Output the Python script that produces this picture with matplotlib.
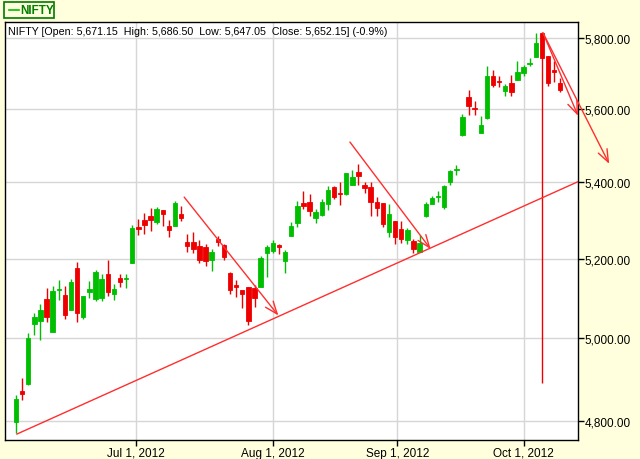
import numpy as np
import pandas as pd
import matplotlib
matplotlib.use('Agg')
import matplotlib.pyplot as plt
import matplotlib.ticker as mticker
from matplotlib.patches import Rectangle
from matplotlib.lines import Line2D

# NIFTY daily bars, Jun 4 - Oct 10 2012 (exchange holidays dropped)
holidays = ['2012-08-15', '2012-08-20', '2012-10-02']
dates = pd.bdate_range('2012-06-04', '2012-10-10')
dates = dates[~dates.isin(pd.to_datetime(holidays))]

opens = [4797, 4871, 4888, 5035, 5043, 5098, 5016, 5119, 5108, 5070,
         5176, 5051, 5114, 5098, 5101, 5161, 5109, 5151, 5149, 5190,
         5283, 5301, 5311, 5296, 5327, 5285, 5285, 5317, 5242, 5244,
         5233, 5231, 5198, 5251, 5235, 5164, 5132, 5120, 5128, 5125,
         5129, 5216, 5221, 5236, 5195, 5260, 5294, 5346, 5348, 5307,
         5315, 5343, 5388, 5371, 5368, 5394, 5428, 5393, 5388, 5348,
         5346, 5268, 5298, 5277, 5249, 5246, 5218, 5310, 5343, 5361,
         5335, 5402, 5432, 5527, 5633, 5602, 5535, 5575, 5692, 5678,
         5651, 5672, 5681, 5701, 5727, 5746, 5814, 5749, 5709, 5671.15]
highs = [4861, 4902, 5013, 5062, 5085, 5126, 5130, 5146, 5130, 5148,
         5192, 5105, 5143, 5171, 5161, 5197, 5136, 5161, 5161, 5288,
         5303, 5319, 5332, 5335, 5327, 5301, 5351, 5338, 5264, 5269,
         5249, 5238, 5225, 5259, 5239, 5165, 5146, 5121, 5128, 5134,
         5206, 5236, 5249, 5238, 5223, 5296, 5351, 5377, 5369, 5330,
         5356, 5391, 5391, 5401, 5425, 5434, 5450, 5401, 5401, 5360,
         5346, 5343, 5298, 5298, 5280, 5251, 5262, 5348, 5364, 5377,
         5394, 5434, 5448, 5585, 5653, 5623, 5581, 5720, 5709, 5692,
         5670, 5695, 5734, 5722, 5743, 5814, 5816, 5749, 5735, 5686.50]
lows = [4771, 4848, 4885, 5008, 4996, 5041, 5014, 5096, 5047, 5069,
        5041, 5048, 5101, 5093, 5093, 5106, 5096, 5129, 5126, 5189,
        5262, 5264, 5272, 5290, 5285, 5256, 5285, 5298, 5218, 5215,
        5189, 5182, 5169, 5234, 5198, 5109, 5103, 5076, 5033, 5078,
        5128, 5154, 5214, 5211, 5164, 5259, 5281, 5330, 5312, 5294,
        5310, 5328, 5357, 5341, 5367, 5394, 5394, 5371, 5312, 5312,
        5283, 5255, 5239, 5241, 5239, 5216, 5217, 5309, 5342, 5348,
        5330, 5394, 5421, 5526, 5584, 5584, 5534, 5573, 5662, 5661,
        5637, 5637, 5680, 5692, 5720, 5745, 4890, 5665, 5674, 5647.05]
closes = [4852, 4864, 5000, 5053, 5070, 5053, 5118, 5123, 5056, 5141,
          5063, 5105, 5123, 5166, 5148, 5114, 5123, 5141, 5151, 5280,
          5277, 5288, 5301, 5330, 5317, 5275, 5346, 5306, 5233, 5225,
          5197, 5193, 5218, 5243, 5205, 5119, 5129, 5109, 5043, 5100,
          5202, 5231, 5241, 5229, 5218, 5285, 5338, 5338, 5323, 5322,
          5348, 5380, 5362, 5368, 5424, 5415, 5416, 5385, 5348, 5333,
          5289, 5317, 5257, 5251, 5275, 5226, 5241, 5343, 5359, 5364,
          5391, 5431, 5435, 5577, 5608, 5599, 5556, 5692, 5668, 5675,
          5664, 5648, 5703, 5717, 5730, 5786, 5743, 5673, 5703, 5652.15]

# hand drawn trend lines / arrows: (bar index, price)
support_line = [(0.15, 4768), (91.9, 5402)]
arrows = [((27.5, 5361), (42.9, 5056)),
          ((54.6, 5509), (67.8, 5225)),
          ((86.2, 5814), (91.9, 5581)),
          ((86.2, 5814), (97.0, 5450))]

y_ticks = [4800, 5000, 5200, 5400, 5600, 5800]
x_tick_dates = ['2012-07-01', '2012-08-01', '2012-09-01', '2012-10-01']
x_tick_labels = ['Jul 1, 2012', 'Aug 1, 2012', 'Sep 1, 2012', 'Oct 1, 2012']

header = ('NIFTY [Open: 5,671.15  High: 5,686.50  Low: 5,647.05  '
          'Close: 5,652.15] (-0.9%)')

GREEN = '#00BE00'
RED = '#EE0000'
TREND = '#FF2E2E'
BG = '#FFFFDD'
FONT = 'Liberation Sans'

o = np.array(opens)
h = np.array(highs)
l = np.array(lows)
c = np.array(closes)
x = np.arange(len(dates))

fig = plt.figure(figsize=(6.4, 4.6), dpi=100, facecolor=BG)
ax = fig.add_axes([5 / 640, 19 / 460, 573 / 640, 418 / 460])
ax.set_facecolor('white')
ax.set_yscale('log')

# candles
colors = np.where(c >= o, GREEN, RED)
ax.vlines(x, l, h, colors=colors, lw=1, zorder=3)
body_lo = np.minimum(o, c)
body_hi = np.maximum(o, c)
ax.bar(x, body_hi - body_lo, bottom=body_lo, width=0.72, color=colors,
       edgecolor=colors, linewidth=0.6, zorder=4)

# trend lines
(sx0, sy0), (sx1, sy1) = support_line
ax.plot([sx0, sx1], [sy0, sy1], color=TREND, lw=1, zorder=5)
for start, end in arrows:
    ax.annotate('', xy=end, xytext=start, annotation_clip=False,
                arrowprops=dict(arrowstyle='->,head_length=0.9,head_width=0.35',
                                color=TREND, lw=1, shrinkA=0, shrinkB=0),
                zorder=5)

# axes / ticks
ax.set_xlim(-1.8, 91.9)
ax.set_ylim(4754, 5846)
tick_pos = np.interp(pd.to_datetime(x_tick_dates).asi8, dates.asi8, x)
ax.set_xticks(tick_pos)
ax.set_xticklabels(x_tick_labels, fontfamily=FONT, fontsize=8.5)
ax.yaxis.tick_right()
ax.yaxis.set_major_locator(mticker.FixedLocator(y_ticks))
ax.yaxis.set_minor_locator(mticker.NullLocator())
ax.yaxis.set_major_formatter(mticker.FuncFormatter(lambda v, p: f'{v:,.2f}'))
for lab in ax.get_yticklabels():
    lab.set_fontfamily(FONT)
ax.tick_params(axis='both', direction='out', length=4, width=1, color='black',
               labelsize=8.5, pad=1)
ax.grid(True, color='#D6D6D6', lw=1)
ax.set_axisbelow(True)
for sp in ax.spines.values():
    sp.set_color('black')
    sp.set_linewidth(1)

ax.text(3 / 573, 0.978, header, transform=ax.transAxes, va='center', ha='left',
        fontfamily=FONT, fontsize=7.7, color='black', zorder=6)

# legend box top-left
fig.patches.append(Rectangle((3.5 / 640, 1 - 18.5 / 460), 50.5 / 640, 15.5 / 460,
                             transform=fig.transFigure, facecolor=BG,
                             edgecolor='#007A00', lw=1.2))
fig.lines.append(Line2D([9 / 640, 19 / 640], [1 - 11 / 460, 1 - 11 / 460],
                        transform=fig.transFigure, color=GREEN, lw=1.2))
fig.text(20.5 / 640, 1 - 11 / 460, 'NIFTY', fontfamily=FONT, fontsize=8.5,
         fontweight='bold', color='#008000', va='center', ha='left')

fig.savefig('out.png', dpi=100, facecolor=BG)
